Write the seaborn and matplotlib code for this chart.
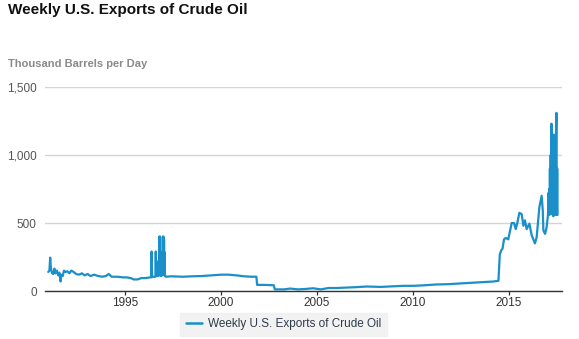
import matplotlib
matplotlib.use("Agg")
import matplotlib.pyplot as plt
import seaborn as sns
import pandas as pd

# Weekly U.S. crude oil exports, thousand barrels per day (decimal year, value)
years = [
    1991.00, 1991.06, 1991.10, 1991.14, 1991.20, 1991.26, 1991.32, 1991.38, 1991.45, 1991.52,
    1991.58, 1991.64, 1991.68, 1991.75, 1991.82, 1991.90, 1992.00, 1992.10, 1992.20, 1992.32,
    1992.45, 1992.60, 1992.75, 1992.90, 1993.05, 1993.20, 1993.40, 1993.60, 1993.80, 1994.00,
    1994.15, 1994.30, 1994.60, 1994.90, 1995.10, 1995.30, 1995.45, 1995.65, 1995.85, 1996.05,
    1996.30, 1996.36, 1996.38, 1996.41, 1996.58, 1996.60, 1996.62, 1996.64, 1996.655, 1996.67,
    1996.685, 1996.70, 1996.715, 1996.73, 1996.745, 1996.76, 1996.775, 1996.79, 1996.805, 1996.82,
    1996.835, 1996.85, 1996.865, 1996.88, 1996.895, 1996.91, 1996.925, 1996.94, 1996.955, 1996.97,
    1996.985, 1997.00, 1997.015, 1997.03, 1997.045, 1997.06, 1997.08, 1997.12, 1997.40,
    1998.00, 1998.50, 1999.00, 1999.50, 2000.00, 2000.40, 2000.80, 2001.20, 2001.60, 2001.84,
    2001.88, 2002.30, 2002.75, 2002.80, 2003.30, 2003.60, 2004.00, 2004.40, 2004.80, 2005.20,
    2005.60, 2006.00, 2006.50, 2007.00, 2007.60, 2008.30, 2009.00, 2009.50, 2010.00, 2010.60,
    2011.20, 2011.80, 2012.40, 2013.00, 2013.60, 2014.20, 2014.45, 2014.52, 2014.60, 2014.66,
    2014.74, 2014.83, 2014.96, 2015.05, 2015.14, 2015.26, 2015.35, 2015.43, 2015.54, 2015.66,
    2015.75, 2015.83, 2015.92, 2016.06, 2016.18, 2016.35, 2016.44, 2016.58, 2016.70, 2016.76,
    2016.79, 2016.88, 2016.96, 2017.03, 2017.05, 2017.07, 2017.09, 2017.11, 2017.13, 2017.15,
    2017.17, 2017.19, 2017.21, 2017.23, 2017.25, 2017.27, 2017.29, 2017.31, 2017.33, 2017.35,
    2017.37, 2017.39, 2017.41, 2017.43, 2017.45, 2017.47, 2017.49, 2017.51, 2017.53,
]
exports_kbd = [
    140, 150, 245, 165, 130, 125, 165, 130, 150, 115,
    135, 70, 120, 110, 150, 140, 145, 130, 150, 140,
    125, 120, 130, 115, 125, 110, 120, 110, 105, 110,
    125, 105, 105, 100, 100, 95, 85, 85, 95, 95,
    100, 100, 290, 105, 105, 290, 115, 215, 110, 215,
    115, 215, 110, 215, 115, 220, 120, 400, 115, 400,
    125, 285, 110, 285, 120, 285, 115, 285, 120, 400,
    125, 400, 120, 380, 130, 285, 110, 105, 108,
    105, 108, 110, 115, 120, 120, 115, 108, 105, 105,
    45, 45, 42, 12, 12, 18, 12, 15, 20, 12,
    22, 22, 25, 28, 33, 30, 35, 38, 38, 42,
    48, 50, 55, 60, 65, 70, 75, 270, 300, 310,
    380, 390, 380, 440, 500, 500, 455, 500, 575, 565,
    480, 520, 455, 495, 410, 350, 395, 615, 700, 590,
    445, 420, 470, 560, 720, 560, 750, 560, 900, 580,
    1000, 570, 1230, 600, 880, 560, 900, 550, 1150, 560,
    1000, 570, 1100, 560, 1150, 1310, 560, 900, 560,
]
x_ticks = [1995, 2000, 2005, 2010, 2015]
y_ticks = [0, 500, 1000, 1500]
y_tick_labels = ["0", "500", "1,000", "1,500"]

series_name = "Weekly U.S. Exports of Crude Oil"
df = pd.DataFrame({"year": years, "kbd": exports_kbd, "series": series_name})

sns.set_theme(style="white")
plt.rcParams["font.family"] = ["Liberation Sans", "DejaVu Sans"]

line_color = "#1a8fc9"

fig = plt.figure(figsize=(5.79, 3.39), dpi=100)
ax = fig.add_axes([45 / 579, 1 - 291 / 339, 517 / 579, 204 / 339])

sns.lineplot(data=df, x="year", y="kbd", hue="series", palette=[line_color],
             estimator=None, sort=False, linewidth=1.6, ax=ax, legend=False)

ax.set_xlim(1990.83, 2017.76)
ax.set_ylim(0, 1500)
ax.set_xticks(x_ticks)
ax.set_xticklabels([str(t) for t in x_ticks])
ax.set_yticks(y_ticks)
ax.set_yticklabels(y_tick_labels)
ax.set_xlabel("")
ax.set_ylabel("")

for s in ["top", "right", "left"]:
    ax.spines[s].set_visible(False)
ax.spines["bottom"].set_color("#333333")
ax.spines["bottom"].set_linewidth(1.0)
ax.spines["bottom"].set_zorder(5)

ax.yaxis.grid(True, color="#d4d4d4", linewidth=1.0)
ax.set_axisbelow(True)
ax.tick_params(axis="x", direction="out", length=3, width=0.9, color="#333333",
               pad=1.5, labelsize=8.5, labelcolor="#333333", bottom=True)
ax.tick_params(axis="y", length=0, pad=6, labelsize=8.5, labelcolor="#555555")

fig.text(8 / 579, 1 - 3 / 339, series_name, ha="left", va="top",
         fontsize=11, fontweight="bold", color="#111111")
fig.text(8 / 579, 1 - 59 / 339, "Thousand Barrels per Day", ha="left", va="top",
         fontsize=8, fontweight="bold", color="#8a8a8a")

handle = plt.Line2D([], [], color=line_color, linewidth=1.8)
leg = fig.legend([handle], [series_name], loc="center",
                 bbox_to_anchor=(283.5 / 579, 1 - 324.5 / 339),
                 frameon=True, fancybox=False, fontsize=8.5,
                 handlelength=1.3, handletextpad=0.5, borderpad=0.5)
leg.get_frame().set_facecolor("#efefef")
leg.get_frame().set_edgecolor("#efefef")
for t in leg.get_texts():
    t.set_color("#2f3b4c")

fig.savefig("out.png", dpi=100)
